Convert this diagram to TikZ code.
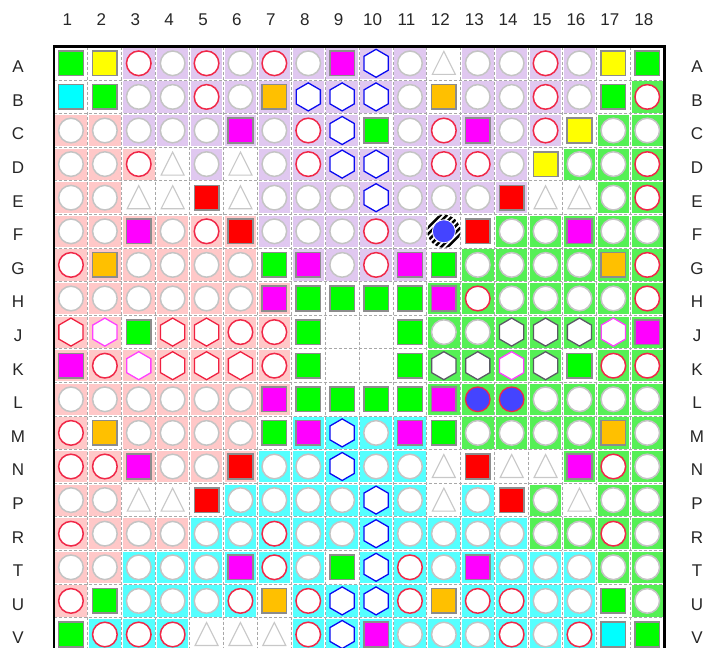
\documentclass[tikz,border=0pt]{standalone}
\usepackage{fontspec}
\setmainfont{Liberation Sans}
\definecolor{bgL}{HTML}{E0C8F0}
\definecolor{bgP}{HTML}{FFC8C8}
\definecolor{bgG}{HTML}{55F055}
\definecolor{bgC}{HTML}{55FFFF}
\definecolor{bgW}{HTML}{FFFFFF}
\definecolor{ringgray}{HTML}{C4C4C4}
\definecolor{ringred}{HTML}{F02848}
\definecolor{sqborder}{HTML}{8C8C8C}
\definecolor{sqgreen}{HTML}{00FF00}
\definecolor{sqyellow}{HTML}{FFFF00}
\definecolor{sqmag}{HTML}{FF00FF}
\definecolor{sqcyan}{HTML}{00FFFF}
\definecolor{sqorange}{HTML}{FFC000}
\definecolor{sqred}{HTML}{FF0000}
\definecolor{hexblue}{HTML}{0A0AF0}
\definecolor{hexred}{HTML}{F02040}
\definecolor{hexpink}{HTML}{FF40FF}
\definecolor{hexgray}{HTML}{5A5A64}
\definecolor{trigray}{HTML}{C8C8C8}
\definecolor{dotblue}{HTML}{4444FF}
\definecolor{gridgray}{HTML}{A8A8A8}
\tikzset{
  lbl/.style={font=\fontsize{17}{17}\selectfont, text=black!85, inner sep=0pt},
  ringg/.style={fill=white, draw=ringgray, line width=1.5pt},
  ringr/.style={fill=white, draw=ringred, line width=1.5pt},
  gridline/.style={draw=gridgray, line width=0.9pt, dash pattern=on 3pt off 2pt},
  frame/.style={draw=black, line width=2.6pt}
}
\newcommand\cello[2]{\filldraw[ringg] (#1,#2) circle (12.3);}
\newcommand\cellr[2]{\filldraw[ringr] (#1,#2) circle (12.3);}
\newcommand\cellb[2]{\filldraw[fill=dotblue, draw=ringred, line width=1.3pt] (#1,#2) circle (12.3);}
\newcommand\mysq[3]{\filldraw[fill=#3, draw=sqborder, line width=1.5pt] (#1-12.3,#2-12.3) rectangle (#1+12.3,#2+12.3);}
\newcommand\cellG[2]{\mysq{#1}{#2}{sqgreen}}
\newcommand\cellY[2]{\mysq{#1}{#2}{sqyellow}}
\newcommand\cellM[2]{\mysq{#1}{#2}{sqmag}}
\newcommand\cellC[2]{\mysq{#1}{#2}{sqcyan}}
\newcommand\cellO[2]{\mysq{#1}{#2}{sqorange}}
\newcommand\cellR[2]{\mysq{#1}{#2}{sqred}}
\newcommand\myhex[3]{\filldraw[fill=white, draw=#3, line width=1.3pt] (#1,#2-14) -- (#1+12.1,#2-7) -- (#1+12.1,#2+7) -- (#1,#2+14) -- (#1-12.1,#2+7) -- (#1-12.1,#2-7) -- cycle;}
\newcommand\cellh[2]{\myhex{#1}{#2}{hexblue}}
\newcommand\cellx[2]{\myhex{#1}{#2}{hexred}}
\newcommand\cellp[2]{\myhex{#1}{#2}{hexpink}}
\newcommand\cellk[2]{\myhex{#1}{#2}{hexgray}}
\newcommand\cellt[2]{\filldraw[fill=white, draw=trigray, line width=1.1pt] (#1,#2-12) -- (#1+11.5,#2+11) -- (#1-11.5,#2+11) -- cycle;}
\newcommand\celle[2]{}
\newcommand\cellz[2]{%
  \begin{scope}
    \clip (#1,#2) circle (16.5);
    \foreach \q in {-4,...,4} {\draw[black, line width=2.4pt] (#1+\q*6.5-20,#2+20) -- (#1+\q*6.5+20,#2-20);}
  \end{scope}
  \filldraw[fill=dotblue, draw=white, line width=0.8pt] (#1,#2) circle (11.5);}
\begin{document}
\begin{tikzpicture}[x=1pt,y=-1pt]
\useasboundingbox (0,0) rectangle (707,648);
\clip (0,0) rectangle (707,648);
\def\XO{54}
\def\DX{33.9}
\def\YO{46.5}
\def\DY{33.6}
% labels
\foreach \n in {1,...,18} {
  \node[lbl] (col\n) at ({\XO+(\n-0.5)*\DX-3.5},20) {\n};
}
\foreach \L [count=\i] in {A,B,C,D,E,F,G,H,J,K,L,M,N,P,R,T,U,V} {
  \node[lbl] (rowl\L) at (18,{\YO+(\i-0.5)*\DY+3.5}) {\L};
  \node[lbl] (rowr\L) at (697,{\YO+(\i-0.5)*\DY+3.5}) {\L};
}
% cells
\foreach \rowdata [count=\r] in {
 {G/W,Y/W,r/L,o/L,r/L,o/L,r/L,o/L,M/L,h/L,o/L,t/W,o/L,o/L,r/L,o/L,Y/W,G/W},
 {C/W,G/W,o/L,o/L,r/L,o/L,O/L,h/L,h/L,h/L,o/L,O/W,o/L,o/L,r/L,o/L,G/W,r/G},
 {o/P,o/P,o/L,o/L,o/L,M/L,o/L,r/L,h/L,G/W,o/L,r/L,M/L,o/L,r/L,Y/W,o/G,o/G},
 {o/P,o/P,r/P,t/W,o/L,t/W,o/L,r/L,h/L,h/L,o/L,r/L,r/L,o/L,Y/W,o/G,o/G,r/G},
 {o/P,o/P,t/W,t/W,R/W,t/W,o/L,o/L,o/L,h/L,o/L,o/L,o/L,R/L,t/W,t/W,o/G,r/G},
 {o/P,o/P,M/P,o/P,r/P,R/P,o/L,o/L,o/L,r/L,o/L,z/W,R/W,o/G,o/G,M/G,o/G,o/G},
 {r/P,O/P,o/P,o/P,o/P,o/P,G/W,M/L,o/L,r/L,M/L,G/W,o/G,o/G,o/G,o/G,O/G,r/G},
 {o/P,o/P,o/P,o/P,o/P,o/P,M/P,G/W,G/W,G/W,G/W,M/G,r/G,o/G,o/G,o/G,o/G,r/G},
 {x/P,p/P,G/W,x/P,x/P,r/P,r/P,G/W,e/W,e/W,G/W,o/G,o/G,k/G,k/G,k/G,p/G,M/G},
 {M/P,r/P,p/P,x/P,x/P,x/P,r/P,G/W,e/W,e/W,G/W,k/G,k/G,p/G,k/G,G/W,r/G,r/G},
 {o/P,o/P,o/P,o/P,o/P,o/P,M/P,G/W,G/W,G/W,G/W,M/G,b/G,b/G,o/G,o/G,o/G,o/G},
 {r/P,O/W,o/P,o/P,o/P,o/P,G/W,M/C,h/C,o/C,M/C,G/W,o/G,o/G,o/G,o/G,O/G,o/G},
 {r/P,r/P,M/P,o/P,o/P,R/P,o/C,o/C,h/C,o/C,o/C,t/W,R/W,t/W,t/W,M/G,r/G,o/G},
 {o/P,o/P,t/W,t/W,R/W,o/C,o/C,o/C,o/C,h/C,o/C,t/W,o/C,R/W,o/G,t/W,o/G,o/G},
 {r/P,o/P,o/P,o/P,o/C,o/C,r/C,o/C,o/C,h/C,o/C,o/C,o/C,o/C,o/G,o/G,r/G,o/G},
 {o/P,o/P,o/C,o/C,o/C,M/C,r/C,o/C,G/W,h/C,r/C,o/C,M/C,o/C,o/C,o/C,o/G,o/G},
 {r/P,G/W,o/C,o/C,o/C,r/C,O/W,r/C,h/C,h/C,r/C,O/W,r/C,r/C,o/C,o/C,G/W,o/G},
 {G/W,r/C,r/C,r/C,t/W,t/W,t/W,r/C,h/C,M/C,o/C,o/C,o/C,r/C,o/C,r/C,C/W,G/W}} {
  \foreach \c/\b [count=\k] in \rowdata {
    \pgfmathsetmacro\cx{\XO+(\k-0.5)*\DX}
    \pgfmathsetmacro\cy{\YO+(\r-0.5)*\DY}
    \fill[fill=bg\b] (\cx-\DX/2+1.2,\cy-\DY/2+1.2) rectangle (\cx+\DX/2-1.2,\cy+\DY/2-1.2);
    \csname cell\c\endcsname{\cx}{\cy}
  }
}
% grid
\foreach \k in {1,...,17} {
  \draw[gridline] ({\XO+\k*\DX},\YO) -- ({\XO+\k*\DX},660);
  \draw[gridline] (\XO,{\YO+\k*\DY}) -- ({\XO+18*\DX},{\YO+\k*\DY});
}
% frame
\draw[frame] (\XO,660) -- (\XO,\YO) -- ({\XO+18*\DX},\YO) -- ({\XO+18*\DX},660);
\end{tikzpicture}
\end{document}
